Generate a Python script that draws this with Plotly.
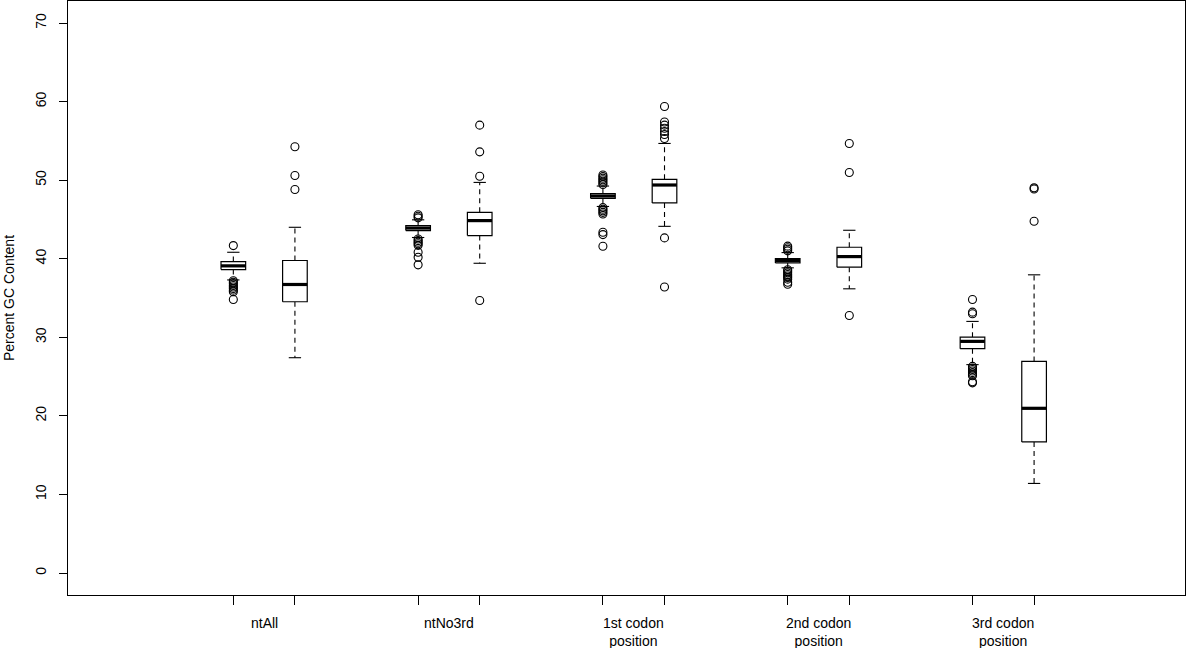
import plotly.graph_objects as go

# ---- data ----
groups = ["ntAll", "ntNo3rd", "1st codon<br>position", "2nd codon<br>position", "3rd codon<br>position"]
positions = [1, 2, 4, 5, 7, 8, 10, 11, 13, 14]
q1 = [38.62, 34.52, 43.58, 42.94, 47.68, 47.10, 39.47, 38.92, 28.55, 16.68]
median = [39.09, 36.72, 43.90, 44.85, 47.98, 49.38, 39.77, 40.27, 29.48, 20.96]
q3 = [39.64, 39.77, 44.21, 45.90, 48.28, 50.10, 40.02, 41.46, 30.02, 26.93]
lower_whisker = [37.3, 27.4, 42.7, 39.42, 46.65, 44.12, 38.84, 36.17, 26.52, 11.4]
upper_whisker = [40.82, 44.0, 44.95, 49.71, 49.25, 54.67, 40.78, 43.62, 32.02, 37.95]
outliers = [
    [41.67, 37.2, 37.0, 36.8, 36.6, 36.4, 36.2, 36.0, 35.8, 34.8],
    [54.25, 50.6, 48.8],
    [45.2, 45.4, 45.6, 42.5, 42.3, 42.1, 41.9, 41.7, 40.82, 40.19, 39.22],
    [57.0, 53.6, 50.5, 34.68],
    [49.45, 49.65, 49.85, 50.05, 50.25, 50.45, 50.65, 46.5, 46.3, 46.1, 45.9, 45.7, 43.36, 43.07, 41.58],
    [59.37, 57.4, 57.0, 56.6, 56.2, 55.8, 55.3, 42.65, 36.4],
    [41.0, 41.2, 41.4, 41.6, 38.6, 38.4, 38.2, 38.0, 37.8, 37.6, 37.4, 37.0, 36.75],
    [54.67, 50.98, 32.78],
    [34.81, 33.2, 33.0, 26.3, 26.1, 25.9, 25.7, 25.5, 25.3, 25.1, 24.35, 24.2],
    [48.87, 49.02, 44.76],
]
y_ticks = [0, 10, 20, 30, 40, 50, 60, 70]

# ---- styles ----
HALF = 0.2      # half box width (axis units)
CAP = 0.1       # half cap width
FONT = "Liberation Sans, Arial, Helvetica, sans-serif"

bx, by, mx, my, wx, wy, cx, cy, ox, oy = ([] for _ in range(10))
for i, p in enumerate(positions):
    bx += [p - HALF, p + HALF, p + HALF, p - HALF, p - HALF, None]
    by += [q1[i], q1[i], q3[i], q3[i], q1[i], None]
    mx += [p - HALF, p + HALF, None]
    my += [median[i], median[i], None]
    wx += [p, p, None, p, p, None]
    wy += [q3[i], upper_whisker[i], None, q1[i], lower_whisker[i], None]
    cx += [p - CAP, p + CAP, None, p - CAP, p + CAP, None]
    cy += [upper_whisker[i], upper_whisker[i], None, lower_whisker[i], lower_whisker[i], None]
    ox += [p] * len(outliers[i])
    oy += outliers[i]

fig = go.Figure()
fig.add_trace(go.Scatter(x=wx, y=wy, mode="lines", line=dict(color="black", width=1.1, dash="5px,4px"),
                         hoverinfo="skip", showlegend=False))
fig.add_trace(go.Scatter(x=cx, y=cy, mode="lines", line=dict(color="black", width=1.1),
                         hoverinfo="skip", showlegend=False))
fig.add_trace(go.Scatter(x=bx, y=by, mode="lines", line=dict(color="black", width=1.2),
                         fill="toself", fillcolor="white", hoverinfo="skip", showlegend=False))
fig.add_trace(go.Scatter(x=mx, y=my, mode="lines", line=dict(color="black", width=3.2),
                         hoverinfo="skip", showlegend=False))
fig.add_trace(go.Scatter(x=ox, y=oy, mode="markers",
                         marker=dict(symbol="circle-open", size=8, color="black", line=dict(width=1.1)),
                         showlegend=False))

mids = [(positions[2 * k] + positions[2 * k + 1]) / 2 for k in range(len(groups))]
for m, g in zip(mids, groups):
    fig.add_annotation(x=m, y=0, xref="x", yref="paper", yanchor="top", yshift=-18,
                       text=g, showarrow=False, font=dict(family=FONT, size=14, color="black"))

fig.update_layout(
    width=1200, height=648,
    margin=dict(l=68, r=15, t=1, b=53),
    paper_bgcolor="white", plot_bgcolor="white",
    font=dict(family=FONT, size=14, color="black"),
    xaxis=dict(range=[-1.684, 16.45], tickvals=positions, ticktext=[""] * len(positions),
               ticks="outside", ticklen=9, tickcolor="black", showgrid=False, zeroline=False,
               showline=True, linecolor="black", linewidth=1, mirror=True),
    yaxis=dict(range=[-2.8, 72.8], tickvals=y_ticks, ticks="outside", ticklen=8, tickcolor="black",
               tickangle=-90, showgrid=False, zeroline=False, showline=True, linecolor="black",
               linewidth=1, mirror=True, ticklabelstandoff=7,
               title=dict(text="Percent GC Content", standoff=15, font=dict(family=FONT, size=14))),
)

fig.write_html("out.html", config={"displayModeBar": False},
               post_script="document.body.style.margin='0px';document.body.style.overflow='hidden';")
